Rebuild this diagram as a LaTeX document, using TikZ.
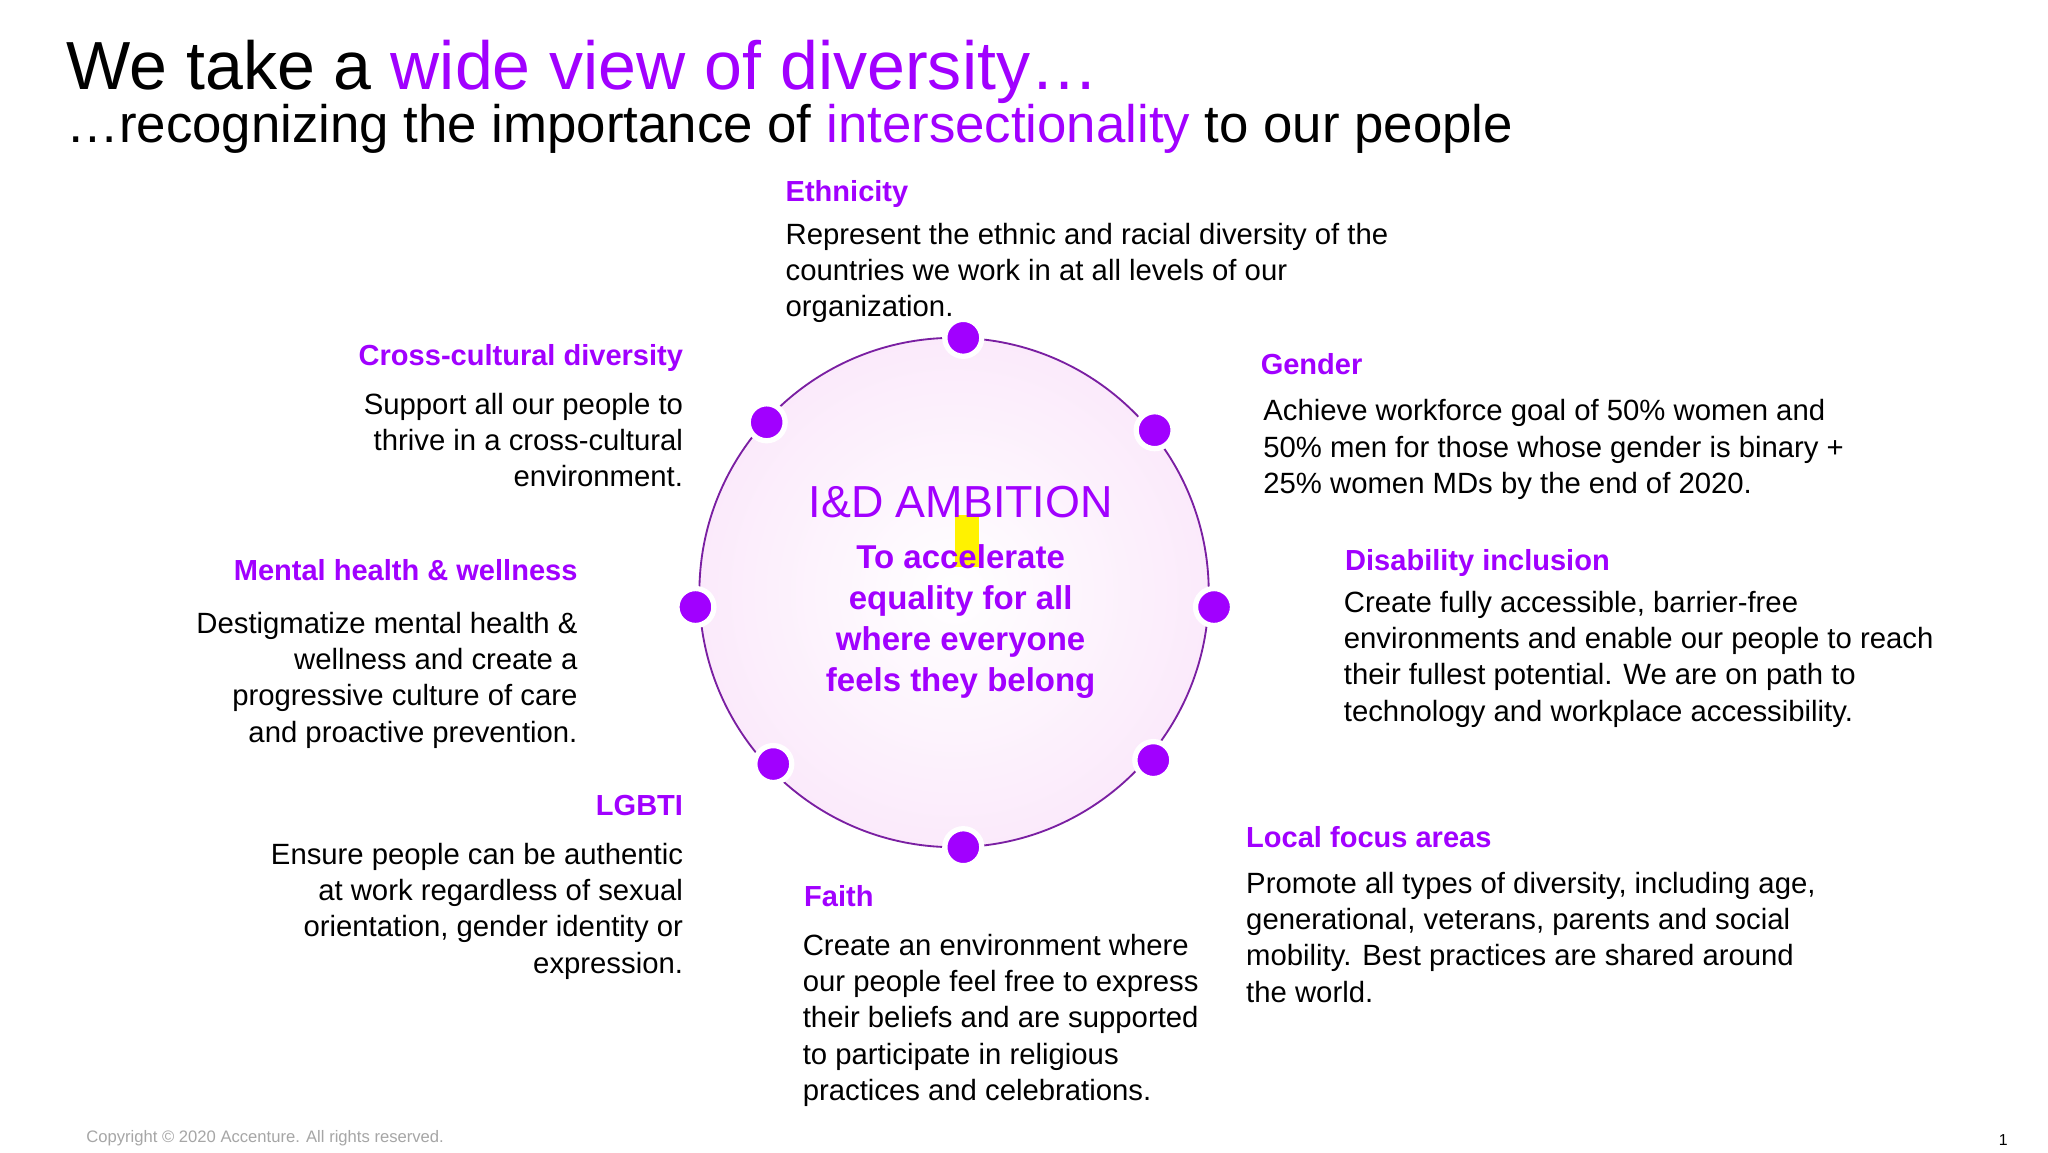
\documentclass[tikz,border=0pt]{standalone}
\usepackage{fontspec}
\setmainfont{Liberation Sans}
\definecolor{acc}{HTML}{A100FF}
\definecolor{ringc}{HTML}{7A1FA2}
\definecolor{pinkfill}{HTML}{FBEAFB}
\tikzset{
 head/.style={text=acc,font=\fontsize{11}{13.75}\selectfont\bfseries,inner sep=0pt},
 bodyl/.style={font=\fontsize{11.1}{13.75}\selectfont,align=left,inner sep=0pt},
 bodyr/.style={font=\fontsize{11.1}{13.75}\selectfont,align=right,inner sep=0pt},
 dot/.style={circle,fill=acc,draw=white,line width=2pt,minimum size=14pt,inner sep=0pt}
}
\begin{document}
\begin{tikzpicture}[x=0.5pt,y=-0.5pt]
\useasboundingbox[fill=white] (0,0) rectangle (1552,873);
% title
\node[anchor=base west,inner sep=0pt,font=\fontsize{25.8}{30}\selectfont] (title) at (50,68) {We take a \textcolor{acc}{wide view of diversity…}};
\node[anchor=base west,inner sep=0pt,font=\fontsize{20}{22}\selectfont] (sub) at (50,108) {…recognizing the importance of \textcolor{acc}{intersectionality} to our people};
% circle
\shade[inner color=white,outer color=pinkfill] (723,449) circle (193);
\draw[ringc,line width=0.7pt] (723,449) circle (193);
\fill[yellow] (724,390) rectangle (742,430);
\node[text=acc,font=\fontsize{17}{20}\selectfont,inner sep=0pt,anchor=base] (amb) at (728,392) {I\&D AMBITION};
\node[text=acc,font=\fontsize{12.5}{15.5}\selectfont\bfseries,align=center,inner sep=0pt,anchor=base] (goal) at (728,524) {To accelerate\\equality for all\\where everyone\\feels they belong};
% dots
\node[dot] (d1) at (730,256) {};
\node[dot] (d2) at (875,326) {};
\node[dot] (d3) at (920,460) {};
\node[dot] (d4) at (874,576) {};
\node[dot] (d5) at (730,642) {};
\node[dot] (d6) at (586,579) {};
\node[dot] (d7) at (527,460) {};
\node[dot] (d8) at (581,320) {};
% right / top
\node[head,anchor=base west] (eh) at (595,153) {Ethnicity};
\node[bodyl,anchor=base west] (eb) at (595,240) {Represent the ethnic and racial diversity of the\\countries we work in at all levels of our\\organization.};
\node[head,anchor=base west] (gh) at (955,284) {Gender};
\node[bodyl,anchor=base west] (gb) at (957,374) {Achieve workforce goal of 50\% women and\\50\% men for those whose gender is binary +\\25\% women MDs by the end of 2020.};
\node[head,anchor=base west] (dh) at (1019,432) {Disability inclusion};
\node[bodyl,anchor=base west] (db) at (1018,546.5) {Create fully accessible, barrier-free\\environments and enable our people to reach\\their fullest potential. We are on path to\\technology and workplace accessibility.};
\node[head,anchor=base west] (lh) at (944,642) {Local focus areas};
\node[bodyl,anchor=base west] (lb) at (944,759.5) {Promote all types of diversity, including age,\\generational, veterans, parents and social\\mobility. Best practices are shared around\\the world.};
\node[head,anchor=base west] (fh) at (609,687) {Faith};
\node[bodyl,anchor=base west] (fb) at (608,834) {Create an environment where\\our people feel free to express\\their beliefs and are supported\\to participate in religious\\practices and celebrations.};
% left
\node[head,anchor=base east] (ch) at (518,277) {Cross-cultural diversity};
\node[bodyr,anchor=base east] (cb) at (518,369) {Support all our people to\\thrive in a cross-cultural\\environment.};
\node[head,anchor=base east] (mh) at (438,440) {Mental health \& wellness};
\node[bodyr,anchor=base east] (mb) at (438,562.5) {Destigmatize mental health \&\\wellness and create a\\progressive culture of care\\and proactive prevention.};
\node[head,anchor=base east] (gbh) at (518,618) {LGBTI};
\node[bodyr,anchor=base east] (gbb) at (518,737.5) {Ensure people can be authentic\\at work regardless of sexual\\orientation, gender identity or\\expression.};
% footer
\node[anchor=base west,inner sep=0pt,text=gray!70,font=\fontsize{6.3}{7}\selectfont] (copy) at (65,866) {Copyright © 2020 Accenture. All rights reserved.};
\node[anchor=base,inner sep=0pt,font=\fontsize{6}{7}\selectfont] (pg) at (1518,868) {1};
\end{tikzpicture}
\end{document}
